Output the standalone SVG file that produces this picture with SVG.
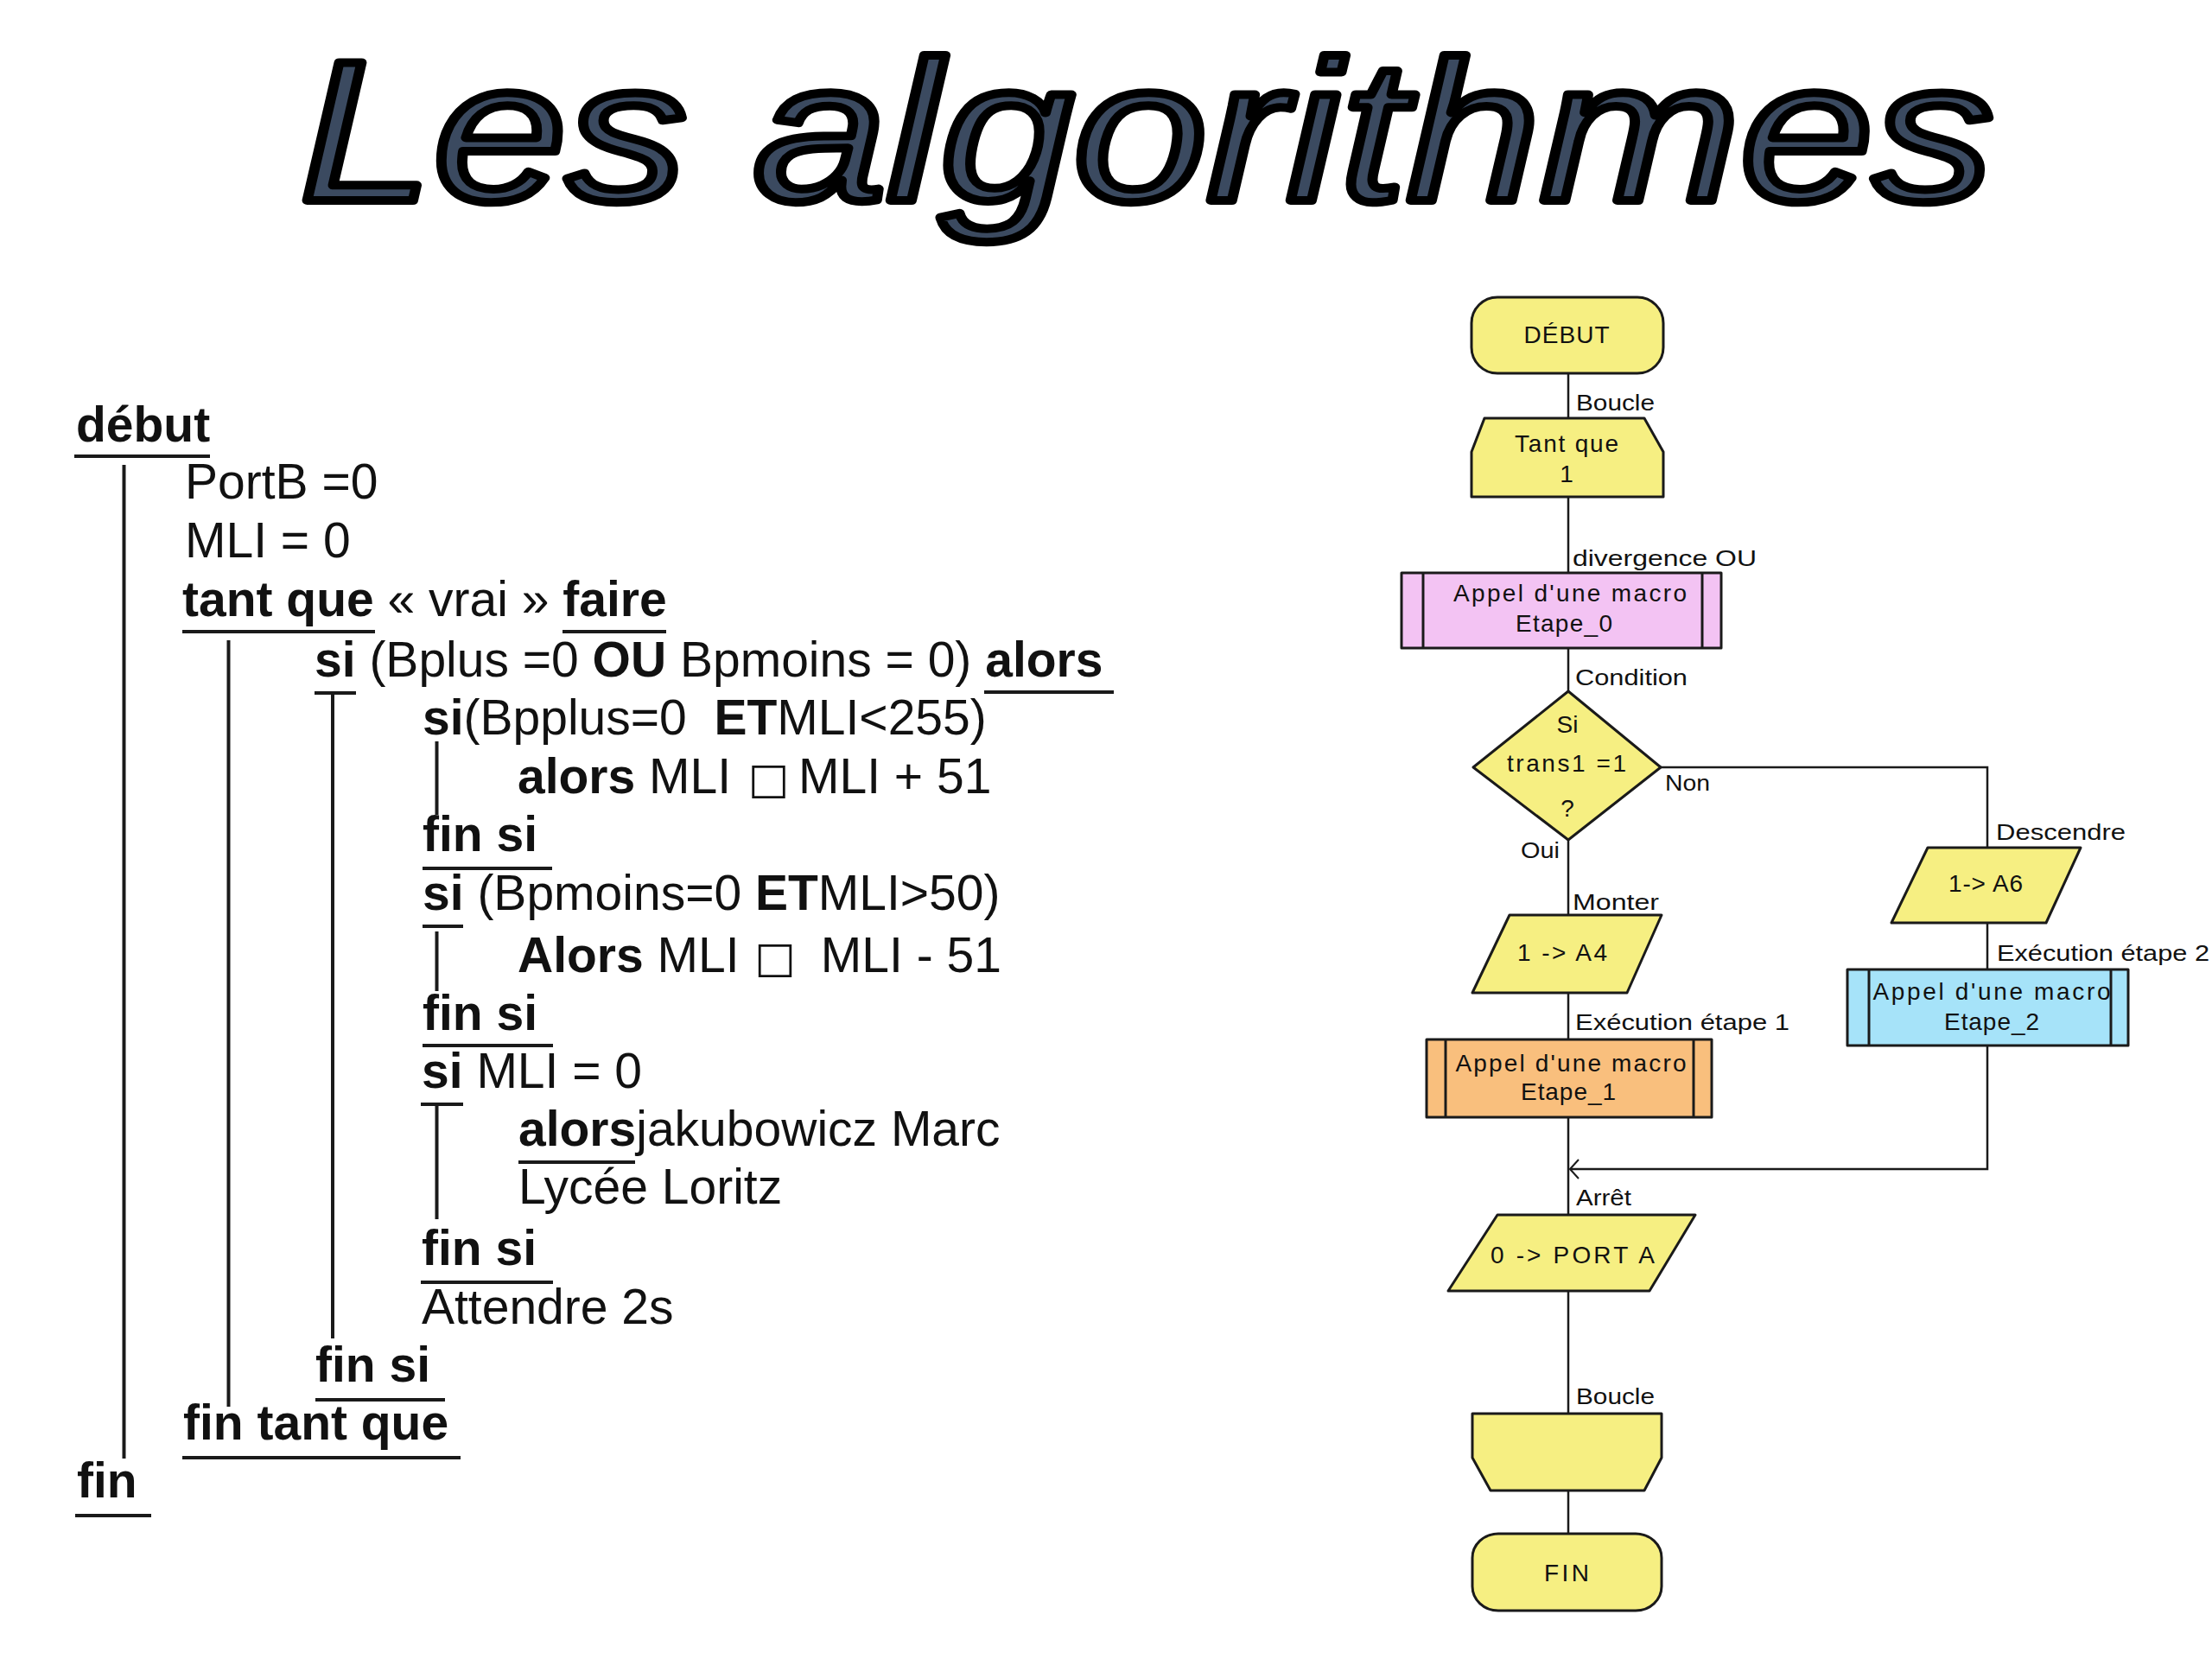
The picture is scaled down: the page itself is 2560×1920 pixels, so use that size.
<svg xmlns="http://www.w3.org/2000/svg" width="2560" height="1920" viewBox="0 0 2560 1920">
<style>
.title{font-family:"Liberation Sans",Arial,sans-serif;font-style:italic;font-size:232px;fill:#3b4a60;stroke:#000;stroke-width:10px;stroke-linejoin:round}
.c{font-family:"Liberation Sans",Arial,sans-serif;font-size:57px;fill:#111;white-space:pre}
.b{font-weight:bold}
.sq{font-family:"DejaVu Sans",sans-serif;font-size:50px}
.ln{stroke:#1a1a1a;stroke-width:4;fill:none}
.sh{stroke:#1a1a1a;stroke-width:3;stroke-linejoin:round}
.y{fill:#f6ef82}
.pk{fill:#f3c3f3}
.or{fill:#f9bf7d}
.bl{fill:#a6e3f9}
.ft{font-family:"Liberation Sans",Arial,sans-serif;font-size:28px;fill:#111;text-anchor:middle}
.lb{font-family:"Liberation Sans",Arial,sans-serif;font-size:25px;fill:#111}
.cn{stroke:#1a1a1a;stroke-width:2.5;fill:none}
</style>
<defs>
<marker id="arr" markerUnits="userSpaceOnUse" viewBox="0 0 12 24" refX="11" refY="12" markerWidth="12" markerHeight="24" orient="auto">
<path d="M1,1 L11,12 L1,23" fill="none" stroke="#1a1a1a" stroke-width="2"/>
</marker>
</defs>
<rect width="2560" height="1920" fill="#fff"/>

<g id="title">
<text class="title" x="347" y="232" textLength="1960" lengthAdjust="spacingAndGlyphs">Les algorithmes</text>
</g>

<g id="pseudocode">
<g class="ln">
<line x1="86" y1="528" x2="243" y2="528"/>
<line x1="143.5" y1="538" x2="143.5" y2="1688"/>
<line x1="211" y1="731" x2="434" y2="731"/>
<line x1="651" y1="731" x2="771" y2="731"/>
<line x1="264.5" y1="741" x2="264.5" y2="1628"/>
<line x1="364" y1="802" x2="412" y2="802"/>
<line x1="1139" y1="801" x2="1289" y2="801"/>
<line x1="385" y1="804" x2="385" y2="1549"/>
<line x1="505.5" y1="858" x2="505.5" y2="943"/>
<line x1="489" y1="1005" x2="639" y2="1005"/>
<line x1="489" y1="1072" x2="536" y2="1072"/>
<line x1="505.5" y1="1078" x2="505.5" y2="1147"/>
<line x1="489" y1="1210" x2="640" y2="1210"/>
<line x1="487" y1="1278" x2="536" y2="1278"/>
<line x1="505.5" y1="1280" x2="505.5" y2="1411"/>
<line x1="600" y1="1345" x2="735" y2="1345"/>
<line x1="487" y1="1484" x2="640" y2="1484"/>
<line x1="365" y1="1620" x2="515" y2="1620"/>
<line x1="211" y1="1687" x2="533" y2="1687"/>
<line x1="87" y1="1754" x2="175" y2="1754"/>
</g>
<text class="c b" x="88" y="511">début</text>
<text class="c" x="214" y="577">PortB =0</text>
<text class="c" x="214" y="645">MLI = 0</text>
<text class="c" x="211" y="713" xml:space="preserve"><tspan class="b">tant que</tspan> « vrai » <tspan class="b">faire</tspan></text>
<text class="c" x="364" y="783" xml:space="preserve"><tspan class="b">si</tspan> (Bplus =0 <tspan class="b">OU</tspan> Bpmoins = 0) <tspan class="b">alors</tspan></text>
<text class="c" x="489" y="850" xml:space="preserve"><tspan class="b">si</tspan>(Bpplus=0  <tspan class="b">ET</tspan>MLI&lt;255)</text>
<text class="c" x="599" y="918" xml:space="preserve"><tspan class="b">alors</tspan> MLI <tspan class="sq" dx="4">□</tspan><tspan x="924">MLI + 51</tspan></text>
<text class="c b" x="489" y="985">fin si</text>
<text class="c" x="489" y="1053" xml:space="preserve"><tspan class="b">si</tspan> (Bpmoins=0 <tspan class="b">ET</tspan>MLI&gt;50)</text>
<text class="c" x="599" y="1125" xml:space="preserve"><tspan class="b">Alors</tspan> MLI <tspan class="sq" dx="2">□</tspan><tspan x="934"> MLI - 51</tspan></text>
<text class="c b" x="489" y="1192">fin si</text>
<text class="c" x="488" y="1259" xml:space="preserve"><tspan class="b">si</tspan> MLI = 0</text>
<text class="c" x="600" y="1326" xml:space="preserve"><tspan class="b">alors</tspan>jakubowicz Marc</text>
<text class="c" x="600" y="1393">Lycée Loritz</text>
<text class="c b" x="488" y="1464">fin si</text>
<text class="c" x="488" y="1532">Attendre 2s</text>
<text class="c b" x="365" y="1599">fin si</text>
<text class="c b" x="212" y="1666">fin tant que</text>
<text class="c b" x="89" y="1733">fin</text>
</g>

<g id="connectors">
<line class="cn" x1="1815" y1="432" x2="1815" y2="484"/>
<line class="cn" x1="1815" y1="575" x2="1815" y2="663"/>
<line class="cn" x1="1815" y1="750" x2="1815" y2="800"/>
<line class="cn" x1="1815" y1="972" x2="1815" y2="1059"/>
<line class="cn" x1="1815" y1="1149" x2="1815" y2="1203"/>
<line class="cn" x1="1815" y1="1293" x2="1815" y2="1406"/>
<polyline class="cn" points="1922,888 2300,888 2300,981"/>
<line class="cn" x1="2300" y1="1068" x2="2300" y2="1122"/>
<polyline class="cn" points="2300,1210 2300,1353 1817,1353" marker-end="url(#arr)"/>
<line class="cn" x1="1815" y1="1494" x2="1815" y2="1636"/>
<line class="cn" x1="1815" y1="1725" x2="1815" y2="1775"/>
<text class="lb" x="1824" y="475" textLength="91" lengthAdjust="spacingAndGlyphs">Boucle</text>
<text class="lb" x="1820" y="655" textLength="213" lengthAdjust="spacingAndGlyphs">divergence OU</text>
<text class="lb" x="1823" y="793" textLength="130" lengthAdjust="spacingAndGlyphs">Condition</text>
<text class="lb" x="1927" y="915" textLength="52" lengthAdjust="spacingAndGlyphs">Non</text>
<text class="lb" x="1760" y="993" textLength="45" lengthAdjust="spacingAndGlyphs">Oui</text>
<text class="lb" x="2310" y="972" textLength="150" lengthAdjust="spacingAndGlyphs">Descendre</text>
<text class="lb" x="1820" y="1053" textLength="100" lengthAdjust="spacingAndGlyphs">Monter</text>
<text class="lb" x="2311" y="1112" textLength="246" lengthAdjust="spacingAndGlyphs">Exécution étape 2</text>
<text class="lb" x="1823" y="1192" textLength="248" lengthAdjust="spacingAndGlyphs">Exécution étape 1</text>
<text class="lb" x="1824" y="1395" textLength="64" lengthAdjust="spacingAndGlyphs">Arrêt</text>
<text class="lb" x="1824" y="1625" textLength="91" lengthAdjust="spacingAndGlyphs">Boucle</text>
</g>

<g id="debut">
<rect class="sh y" x="1703" y="344" width="222" height="88" rx="30" ry="30"/>
<text class="ft" x="1813" y="397" font-size="30" textLength="99">DÉBUT</text>
</g>
<g id="tantque">
<polygon class="sh y" points="1718,484 1903,484 1925,523 1925,575 1703,575 1703,523"/>
<text class="ft" x="1813" y="523" textLength="120">Tant que</text>
<text class="ft" x="1813" y="558">1</text>
</g>
<g id="macro0">
<rect class="sh pk" x="1622" y="663" width="370" height="87"/>
<line class="sh" x1="1647" y1="663" x2="1647" y2="750"/>
<line class="sh" x1="1970" y1="663" x2="1970" y2="750"/>
<text class="ft" x="1817" y="696" textLength="270">Appel d'une macro</text>
<text class="ft" x="1810" y="731" textLength="112">Etape_0</text>
</g>
<g id="condition">
<polygon class="sh y" points="1815,800 1922,888 1815,972 1705,888"/>
<text class="ft" x="1814" y="848">Si</text>
<text class="ft" x="1813" y="893" textLength="138">trans1 =1</text>
<text class="ft" x="1814" y="945">?</text>
</g>
<g id="a4">
<polygon class="sh y" points="1747,1059 1923,1059 1883,1149 1704,1149"/>
<text class="ft" x="1808" y="1112" textLength="104">1 -&gt; A4</text>
</g>
<g id="a6">
<polygon class="sh y" points="2231,981 2408,981 2368,1068 2189,1068"/>
<text class="ft" x="2298" y="1032" textLength="86">1-&gt; A6</text>
</g>
<g id="macro1">
<rect class="sh or" x="1651" y="1203" width="330" height="90"/>
<line class="sh" x1="1673" y1="1203" x2="1673" y2="1293"/>
<line class="sh" x1="1960" y1="1203" x2="1960" y2="1293"/>
<text class="ft" x="1818" y="1240" textLength="267">Appel d'une macro</text>
<text class="ft" x="1815" y="1273" textLength="110">Etape_1</text>
</g>
<g id="macro2">
<rect class="sh bl" x="2138" y="1122" width="325" height="88"/>
<line class="sh" x1="2163" y1="1122" x2="2163" y2="1210"/>
<line class="sh" x1="2443" y1="1122" x2="2443" y2="1210"/>
<text class="ft" x="2305" y="1157" textLength="275">Appel d'une macro</text>
<text class="ft" x="2305" y="1192" textLength="110">Etape_2</text>
</g>
<g id="porta">
<polygon class="sh y" points="1733,1406 1962,1406 1909,1494 1676,1494"/>
<text class="ft" x="1820" y="1462" textLength="190">0 -&gt; PORT A</text>
</g>
<g id="finboucle">
<polygon class="sh y" points="1704,1636 1923,1636 1923,1687 1903,1725 1725,1725 1704,1687"/>
</g>
<g id="fin">
<rect class="sh y" x="1704" y="1775" width="219" height="89" rx="30" ry="28"/>
<text class="ft" x="1813" y="1830" font-size="30" textLength="52">FIN</text>
</g>
</svg>
